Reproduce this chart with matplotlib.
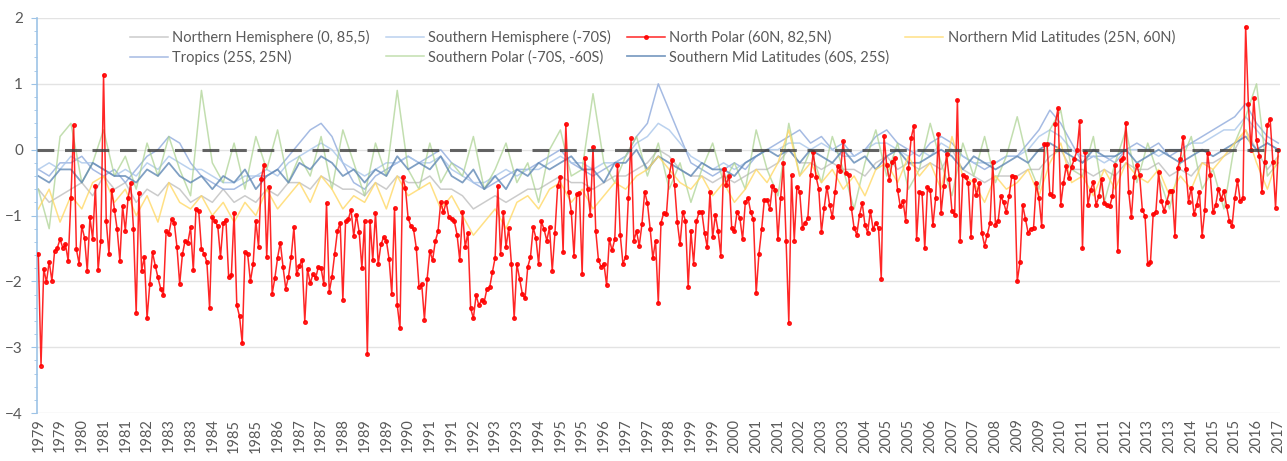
import numpy as np
import matplotlib
matplotlib.use('Agg')
import matplotlib.pyplot as plt
from matplotlib.ticker import MultipleLocator

# monthly anomalies, Jan 1979 .. Jan 2017
north_polar = [
    -1.58, -3.28, -1.81, -2.01, -1.70, -1.99, -1.54, -1.49, -1.36, -1.49, -1.44, -1.69, -0.74, 0.37, -1.51, -1.73,
    -1.16, -1.34, -1.84, -1.03, -1.36, -0.55, -1.83, -1.38, 1.14, -1.09, -1.59, -0.61, -0.91, -1.21, -1.69, -0.86,
    -1.23, -0.74, -0.51, -1.20, -2.48, -0.66, -1.84, -1.63, -2.56, -2.04, -1.56, -1.76, -1.94, -2.11, -2.21, -1.24,
    -1.28, -1.06, -1.11, -1.48, -2.04, -1.59, -1.38, -1.41, -1.18, -1.83, -0.90, -0.93, -1.51, -1.58, -1.71, -2.41,
    -1.03, -1.09, -1.16, -1.63, -1.11, -1.07, -1.93, -1.91, -0.96, -2.36, -2.53, -2.94, -1.56,
    -1.59, -2.00, -1.74, -1.08, -1.48, -0.44, -0.23, -1.63, -0.56, -2.19, -1.95, -1.64, -1.41, -1.78, -2.11, -1.93,
    -1.63, -1.18, -1.89, -1.76, -1.68, -2.61, -1.81, -2.03, -1.89, -1.95, -1.78, -1.80, -2.04, -0.81, -2.16, -1.93,
    -1.59, -1.24, -1.11, -2.28, -1.09, -1.06, -0.91, -1.31, -0.99, -1.25, -1.80, -1.09, -3.11, -1.08, -1.68, -0.96,
    -1.74, -1.44, -1.33, -1.38, -1.66, -2.19, -0.89, -2.36, -2.71, -0.41, -0.58, -1.04, -1.16, -1.21, -1.49, -2.08,
    -2.04, -2.58, -1.96, -1.54, -1.68, -1.39, -1.24, -0.80, -0.95, -0.80, -1.03, -1.06, -1.09,
    -1.29, -1.68, -0.95, -1.48, -1.26, -2.41, -2.56, -2.21, -2.36, -2.29, -2.31, -2.11, -2.09, -1.86, -1.64, -0.55,
    -1.59, -0.95, -1.48, -1.19, -1.74, -2.56, -1.74, -1.96, -2.19, -2.26, -1.78, -1.63, -1.18, -1.34, -1.74, -1.09,
    -1.21, -1.38, -1.18, -1.84, -1.26, -0.55, -0.41, -1.56, 0.39, -0.64, -0.94, -1.61, -0.68, -0.66, -1.89, -0.13,
    -0.59, -0.99, 0.04, -1.23, -1.68, -1.78, -1.73, -2.06, -1.36, -1.53, -1.36, -0.24, -1.29, -1.73, -1.63, -0.73,
    0.17, -1.38, -1.24, -1.46, -1.13, -0.64, -0.81, -1.20, -1.65, -1.38, -2.33, -1.11,
    -0.96, -0.98, -0.40, -0.16, -0.54, -1.10, -1.44, -0.95, -1.08, -2.08, -1.24, -1.73, -1.09, -0.95, -0.94, -1.26,
    -1.48, -0.65, -1.33, -0.99, -1.24, -1.61, -0.29, -0.53, -0.40, -1.19, -1.24, -0.94, -1.04, -1.36, -0.80, -0.73,
    -0.95, -1.06, -2.18, -1.59, -1.21, -0.76, -0.76, -0.90, -0.55, -0.61, -1.36, -0.73, -0.21, -1.38, -2.63, -0.39,
    -1.38, -0.56, -0.64, -1.19, -1.11, -1.04, -0.39, -0.04, -0.41, -0.59, -1.25, -0.89, -0.56, -0.84, -1.03, -0.65,
    -0.25, -0.33, 0.13, -0.36, -0.38, -0.88, -1.19, -1.29, -0.99, -0.81, -1.14, -1.26, -0.93, -1.21,
    -1.11, -1.19, -1.96, 0.21, -0.24, -0.46, -0.19, -0.13, -0.61, -0.86, -0.78, -1.08, -0.28, 0.18, 0.36, -1.36,
    -0.64, -0.66, -1.50, -0.56, -0.61, -1.15, -0.73, 0.24, -0.96, -0.55, -0.06, -0.45, -0.93, -0.99, 0.76, -1.38,
    -0.39, -0.41, -0.51, -1.33, -0.46, -0.69, -0.51, -1.26, -1.46, -1.29, -1.11, -0.19, -1.14, -1.08, -0.71, -0.80,
    -0.95, -0.71, -0.40, -0.41, -2.00, -1.71, -0.84, -1.05, -1.26, -1.20, -1.19, -0.51, -0.74, -1.16, 0.09, 0.08,
    -0.68, -0.70, 0.39, 0.63, -0.84, -0.51, -0.25, -0.43, -0.26, -0.14, -0.01, 0.43, -1.50,
    -0.03, -0.84, -0.61, -0.49, -0.84, -0.71, -0.44, -0.81, -0.84, -0.86, -0.71, -0.24, -1.54, -0.16, -0.13, 0.41,
    -0.64, -1.03, -0.41, -0.24, -0.39, -0.91, -1.01, -1.74, -1.71, -0.98, -0.94, -0.34, -0.78, -0.93, -0.79, -0.63,
    -0.63, -1.31, -0.28, -0.14, 0.19, -0.30, -0.79, -0.58, -0.98, -0.84, -0.64, -1.31, -0.91, -0.05, -0.39, -0.95,
    -0.84, -0.59, -0.75, -0.63, -0.86, -1.08, -1.16, -0.74, -0.46, -0.78, -0.74, 1.87, 0.69, -0.01, 0.79, 0.14,
    -0.09, -0.64, -0.19, 0.37, 0.47, -0.18, -0.88, -0.01,
]

# other series read every 4 months (3 per year), Jan 1979 .. Jan 2017
north_mid = [
    -0.9, -0.6, -1.1, -0.7, -0.9, -0.5, -0.4, -0.8, -0.6, -1.0, -0.7, -1.1, -0.5, -0.8, -0.9, -0.7, -1.0, -0.8,
    -1.1, -0.8, -1.0, -0.6, -0.9, -0.7, -0.5, -0.8, -0.4, -0.6, -0.9, -0.7, -0.8, -0.5, -0.9, -0.4, -0.7, -0.6,
    -0.5, -0.9, -0.7, -1.0, -1.3, -1.1, -0.9, -1.2, -0.8, -0.7, -0.9, -0.6, -0.5, -0.8, -0.6, -0.9, -0.7, -0.5,
    -0.6, -0.4, -0.3, -0.1, -0.3, -0.5, -0.6, -0.4, -0.7, -0.5, -0.8, -0.6, -0.3, -0.5, -0.2, 0.3, -0.4, -0.2,
    -0.5, -0.3, -0.6, -0.4, -0.7, -0.3, -0.2, -0.5, -0.1, -0.4, -0.2, -0.6, 0.2, -0.4, -0.5, -0.8, -0.4, -0.6,
    -0.5, -0.3, -0.7, -0.2, 0.1, -0.5, -0.4, -0.7, -0.3, -0.6, -0.2, -0.4, -0.5, -0.3, -0.7, -0.4, -0.6, -0.2,
    -0.3, -0.1, 0.1, 0.3, -0.2, -0.6, -0.1,
]
south_polar = [
    -0.6, -1.2, 0.2, 0.4, -0.5, -0.2, 0.3, -0.4, -0.1, -0.6, 0.1, -0.4, 0.2, -0.3, -0.7, 0.9, -0.2, -0.5,
    0.1, -0.6, 0.2, -0.3, 0.3, -0.5, -0.1, -0.4, 0.2, -0.6, 0.3, -0.2, -0.7, 0.1, -0.4, 0.9, -0.3, -0.6,
    0.1, -0.5, -0.2, -0.4, 0.2, -0.6, -0.3, 0.1, -0.5, -0.2, -0.8, 0.0, 0.3, -0.4, -0.3, 0.85, -0.2, -0.5,
    -0.1, 0.2, -0.4, 0.1, -0.6, -0.2, -0.8, -0.3, 0.1, -0.5, -0.2, -0.6, 0.3, -0.3, -0.7, 0.4, -0.4, 0.0,
    -0.5, 0.2, -0.3, -0.9, -0.2, 0.3, -0.4, 0.1, -0.6, -0.3, 0.4, -0.2, -0.7, 0.1, -0.4, 0.2, -0.5, -0.1,
    0.5, -0.2, -0.6, 0.3, 0.6, -0.3, -0.4, 0.2, -0.8, -0.2, 0.3, -0.5, 0.1, -0.4, -0.9, -0.2, 0.2, -0.6,
    -0.3, -0.9, 0.1, 0.5, 1.0, -0.4, -0.2,
]
tropics = [
    -0.3, -0.4, -0.2, -0.2, -0.1, -0.3, -0.4, -0.3, -0.5, -0.3, -0.1, 0.0, 0.2, 0.1, -0.2, -0.4, -0.5, -0.6,
    -0.6, -0.5, -0.4, -0.4, -0.3, -0.1, 0.1, 0.3, 0.4, 0.2, -0.2, -0.5, -0.6, -0.4, -0.3, -0.2, -0.1, -0.2,
    -0.1, 0.0, -0.2, -0.3, -0.5, -0.6, -0.5, -0.4, -0.3, -0.3, -0.2, -0.1, 0.0, -0.2, -0.3, -0.4, -0.3, -0.2,
    -0.1, 0.2, 0.4, 1.0, 0.6, 0.2, -0.2, -0.3, -0.4, -0.3, -0.2, -0.3, -0.1, 0.0, 0.1, 0.2, 0.3, 0.1,
    0.2, 0.0, 0.1, -0.1, 0.0, 0.2, 0.3, 0.1, 0.0, -0.1, 0.1, 0.2, 0.1, -0.1, -0.2, -0.3, -0.2, -0.1,
    -0.1, 0.1, 0.3, 0.6, 0.4, 0.1, -0.2, -0.1, -0.1, -0.2, 0.0, 0.1, 0.0, 0.1, -0.1, 0.0, 0.1, 0.2,
    0.3, 0.4, 0.5, 0.7, 0.4, 0.2, 0.1,
]
south_hemi = [
    -0.3, -0.2, -0.3, -0.1, -0.2, -0.2, -0.3, -0.4, -0.3, -0.4, -0.2, -0.3, -0.1, -0.2, -0.3, -0.3, -0.4, -0.5,
    -0.5, -0.4, -0.4, -0.3, -0.4, -0.2, -0.1, 0.0, 0.1, 0.0, -0.2, -0.3, -0.4, -0.3, -0.2, -0.2, -0.1, -0.2,
    -0.2, -0.1, -0.3, -0.4, -0.5, -0.5, -0.4, -0.3, -0.4, -0.3, -0.3, -0.2, -0.1, -0.2, -0.2, -0.3, -0.2, -0.2,
    -0.1, 0.1, 0.2, 0.4, 0.3, 0.1, -0.1, -0.2, -0.3, -0.2, -0.3, -0.2, -0.1, 0.0, 0.0, 0.1, 0.1, 0.0,
    0.1, 0.0, -0.1, -0.1, 0.0, 0.1, 0.1, 0.0, -0.1, 0.0, -0.1, 0.1, 0.0, -0.1, -0.2, -0.2, -0.2, -0.1,
    -0.1, 0.0, 0.2, 0.3, 0.2, 0.0, -0.1, -0.1, -0.2, -0.1, 0.0, 0.0, 0.0, -0.1, 0.0, 0.0, 0.1, 0.1,
    0.2, 0.3, 0.3, 0.5, 0.3, 0.1, 0.0,
]
south_mid = [
    -0.4, -0.5, -0.3, -0.3, -0.5, -0.2, -0.3, -0.4, -0.4, -0.5, -0.3, -0.4, -0.2, -0.4, -0.5, -0.4, -0.6, -0.4,
    -0.5, -0.3, -0.6, -0.4, -0.3, -0.5, -0.2, -0.3, -0.1, -0.2, -0.4, -0.3, -0.5, -0.3, -0.4, -0.1, -0.3, -0.2,
    -0.3, -0.1, -0.4, -0.5, -0.3, -0.6, -0.4, -0.6, -0.3, -0.4, -0.2, -0.3, -0.2, -0.1, -0.3, -0.3, -0.5, -0.2,
    -0.2, 0.0, -0.3, -0.1, -0.2, -0.3, -0.4, -0.2, -0.3, -0.3, -0.4, -0.2, -0.1, 0.0, -0.1, 0.0, -0.2, 0.0,
    -0.1, -0.2, 0.0, -0.2, -0.1, -0.3, -0.1, 0.0, -0.2, -0.2, -0.1, 0.0, -0.1, -0.3, -0.1, -0.2, -0.3, -0.2,
    -0.1, -0.2, 0.0, 0.1, 0.0, -0.1, -0.2, 0.0, -0.1, -0.1, 0.0, -0.2, -0.1, 0.0, -0.1, -0.2, -0.1, 0.0,
    -0.1, 0.0, 0.1, 0.2, 0.0, 0.1, 0.0,
]
north_hemi = [
    -0.6, -0.8, -0.7, -0.6, -0.5, -0.7, -0.4, -0.6, -0.5, -0.8, -0.6, -0.7, -0.5, -0.6, -0.8, -0.7, -0.8, -0.6,
    -0.8, -0.7, -0.8, -0.6, -0.7, -0.5, -0.5, -0.6, -0.4, -0.5, -0.6, -0.6, -0.7, -0.5, -0.6, -0.4, -0.5, -0.5,
    -0.4, -0.6, -0.6, -0.7, -0.9, -0.8, -0.7, -0.8, -0.7, -0.6, -0.6, -0.5, -0.4, -0.5, -0.5, -0.6, -0.5, -0.4,
    -0.4, -0.3, -0.2, 0.0, -0.1, -0.3, -0.4, -0.4, -0.5, -0.4, -0.5, -0.4, -0.3, -0.3, -0.2, 0.0, -0.2, -0.2,
    -0.3, -0.2, -0.3, -0.3, -0.4, -0.2, -0.1, -0.3, -0.2, -0.3, -0.2, -0.3, 0.0, -0.3, -0.4, -0.5, -0.4, -0.4,
    -0.4, -0.3, -0.3, -0.1, 0.0, -0.3, -0.3, -0.4, -0.3, -0.4, -0.2, -0.3, -0.3, -0.2, -0.4, -0.3, -0.4, -0.2,
    -0.2, -0.1, 0.0, 0.3, 0.0, -0.3, -0.1,
]

year_labels = ["1979", "1979", "1980", "1981", "1981", "1982", "1983", "1983", "1984", "1985", "1985", "1986",
               "1987", "1987", "1988", "1989", "1989", "1990", "1991", "1991", "1992", "1993", "1993", "1994",
               "1995", "1995", "1996", "1997", "1997", "1998", "1999", "1999", "2000", "2001", "2001", "2002",
               "2003", "2003", "2004", "2005", "2005", "2006", "2007", "2007", "2008", "2009", "2009", "2010",
               "2011", "2011", "2012", "2013", "2013", "2014", "2015", "2015", "2016", "2017"]

x_month = np.arange(len(north_polar))
x_coarse = np.arange(len(north_mid)) * 4

plt.rcParams['font.family'] = ['Lato', 'DejaVu Sans']
txt = '#595959'

fig = plt.figure(figsize=(12.87, 4.61), dpi=100)
ax = fig.add_axes([0.0287, 0.104, 0.966, 0.857])

ax.plot(x_coarse, north_hemi, color='#bfbfbf', lw=1.1, alpha=0.8, label='Northern Hemisphere (0, 85,5)')
ax.plot(x_coarse, tropics, color='#8faadc', lw=1.1, alpha=0.8, label='Tropics (25S, 25N)')
ax.plot(x_coarse, south_hemi, color='#a9c6ea', lw=1.1, alpha=0.8, label='Southern Hemisphere (-70S)')
ax.plot(x_coarse, south_polar, color='#a9d18e', lw=1.1, alpha=0.7, label='Southern Polar (-70S, -60S)')
ax.plot(x_month, north_polar, color='#ff0000', lw=1.1, marker='o', ms=2.6, alpha=0.85,
        label='North Polar (60N, 82,5N)', zorder=4)
ax.plot(x_coarse, south_mid, color='#6088b5', lw=1.3, alpha=0.8, label='Southern Mid Latitudes (60S, 25S)')
ax.plot(x_coarse, north_mid, color='#ffd966', lw=1.1, alpha=0.8, label='Northern Mid Latitudes (25N, 60N)')

ax.axhline(0, color='#404040', lw=2.2, ls=(0, (5.5, 3.5)), alpha=0.8, zorder=5)

ax.set_ylim(-4, 2)
ax.set_xlim(-0.5, len(north_polar) - 0.3)
ax.yaxis.set_major_locator(MultipleLocator(1))
ax.yaxis.set_minor_locator(MultipleLocator(0.2))
ax.grid(axis='y', color='#e3e3e3', lw=1)
ax.set_axisbelow(True)

ax.set_xticks(np.arange(0, len(north_polar), 8))
ax.set_xticklabels(year_labels, rotation=90, fontsize=10.5, color=txt)
ax.tick_params(axis='x', length=0, pad=4)
ax.tick_params(axis='y', which='major', length=4, color='#9dc3e6', labelsize=11, labelcolor=txt, pad=6)
ax.tick_params(axis='y', which='minor', length=2.5, color='#9dc3e6')

for s in ['top', 'right', 'bottom']:
    ax.spines[s].set_visible(False)
ax.spines['left'].set_color('#9dc3e6')
ax.spines['left'].set_linewidth(1.2)

leg = ax.legend(loc='upper left', bbox_to_anchor=(0.07, 0.86, 0.85, 0.125), mode='expand', ncol=4,
                frameon=False, fontsize=10.5, handlelength=2.6, handletextpad=0.3,
                borderaxespad=0, labelspacing=0.35)
for t in leg.get_texts():
    t.set_color(txt)

fig.savefig('out.png', dpi=100)
